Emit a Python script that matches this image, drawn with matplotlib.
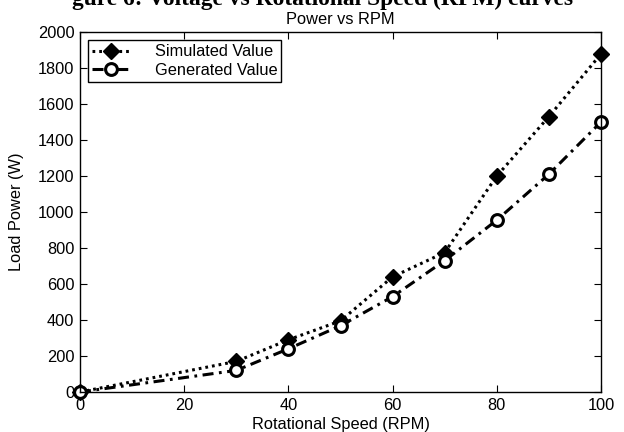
import matplotlib
matplotlib.use("Agg")
import matplotlib.pyplot as plt

# Data
rpm_sim = [0, 30, 40, 50, 60, 70, 80, 90, 100]
power_sim = [0, 170, 290, 395, 640, 775, 1200, 1530, 1878]
rpm_gen = [0, 30, 40, 50, 60, 70, 80, 90, 100]
power_gen = [0, 120, 240, 368, 530, 730, 955, 1210, 1500]
x_ticks = [0, 20, 40, 60, 80, 100]
y_ticks = list(range(0, 2001, 200))

plt.rcParams['font.family'] = ['Liberation Sans', 'DejaVu Sans']
FS = 11.8

fig = plt.figure(figsize=(6.24, 4.32), dpi=100)
W, H = 624, 432
ax = fig.add_axes([80 / W, 1 - 392 / H, (601 - 80) / W, (392 - 32) / H])

ax.plot(rpm_sim, power_sim, linestyle=(0, (0.9, 1.3)), color='black', linewidth=2.2,
        marker='D', markersize=8, markerfacecolor='black',
        markeredgecolor='black', label='Simulated Value', clip_on=False)
ax.plot(rpm_gen, power_gen, linestyle=(0, (3.6, 1.8, 0.9, 1.8)), color='black',
        linewidth=2.2, marker='o', markersize=8.5, markerfacecolor='white',
        markeredgecolor='black', markeredgewidth=2.2,
        label='Generated Value', clip_on=False)

ax.set_xlim(0, 100)
ax.set_ylim(0, 2000)
ax.set_xticks(x_ticks)
ax.set_yticks(y_ticks)
ax.tick_params(direction='in', top=True, right=True, length=5, width=0.8,
               labelsize=FS, colors='black', pad=4)
for s in ax.spines.values():
    s.set_linewidth(1.0)
    s.set_color('black')

ax.set_title('Power vs RPM', fontsize=FS, pad=6)
ax.set_xlabel('Rotational Speed (RPM)', fontsize=FS, labelpad=3)
ax.set_ylabel('Load Power (W)', fontsize=FS, labelpad=10)

leg = ax.legend(loc='upper left', fontsize=FS, fancybox=False,
                edgecolor='black', framealpha=1, borderaxespad=0.5,
                handlelength=2.3, handletextpad=1.5, labelspacing=0.2,
                borderpad=0.25)
leg.get_frame().set_linewidth(1.0)

# Cut-off caption at the very top of the image
cap = fig.text(72 / W, 1 - 5 / H, 'gure 6: Voltage vs Rotational Speed (RPM) curves',
               fontsize=15, fontweight='bold', family=['Liberation Serif', 'DejaVu Serif'],
               ha='left', va='baseline')
fig.canvas.draw()
bb = cap.get_window_extent()
target = 576 - 72
cap.set_fontsize(15 * target / bb.width)

fig.savefig('out.png', dpi=100)
